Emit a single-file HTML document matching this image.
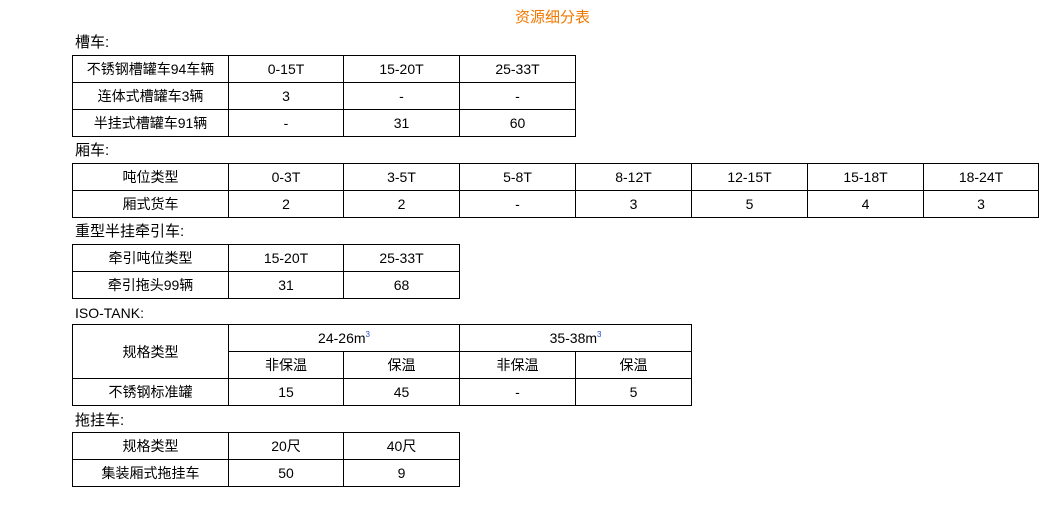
<!DOCTYPE html>
<html><head><meta charset="utf-8"><style>
body{margin:0;width:1040px;height:505px;background:#fff;position:relative;font-family:"Liberation Sans","Noto Sans CJK SC",sans-serif;font-size:14px;color:#000;overflow:hidden}
.l{position:absolute;left:75px;font-size:15px;line-height:18px}
table{position:absolute;left:72px;border-collapse:collapse;table-layout:fixed}
td{border:1px solid #000;height:26px;padding:0;text-align:center;line-height:26px;white-space:nowrap;overflow:hidden}
sup{font-size:8px;color:#2050c0;vertical-align:6px;line-height:0}
</style></head><body>
<div style="position:absolute;left:515px;top:6px;color:#f07800;font-size:15px">资源细分表</div>
<div class="l" style="top:34px">槽车:</div>
<table style="top:55px;width:503px"><colgroup><col style="width:156px"><col style="width:115px"><col style="width:116px"><col style="width:116px"></colgroup>
<tr><td>不锈钢槽罐车94车辆</td><td>0-15T</td><td>15-20T</td><td>25-33T</td></tr>
<tr><td>连体式槽罐车3辆</td><td>3</td><td>-</td><td>-</td></tr>
<tr><td>半挂式槽罐车91辆</td><td>-</td><td>31</td><td>60</td></tr></table>
<div class="l" style="top:142px">厢车:</div>
<table style="top:163px;width:966px"><colgroup><col style="width:156px"><col style="width:115px"><col style="width:116px"><col style="width:116px"><col style="width:116px"><col style="width:116px"><col style="width:116px"><col style="width:115px"></colgroup>
<tr><td>吨位类型</td><td>0-3T</td><td>3-5T</td><td>5-8T</td><td>8-12T</td><td>12-15T</td><td>15-18T</td><td>18-24T</td></tr>
<tr><td>厢式货车</td><td>2</td><td>2</td><td>-</td><td>3</td><td>5</td><td>4</td><td>3</td></tr></table>
<div class="l" style="top:223px">重型半挂牵引车:</div>
<table style="top:244px;width:387px"><colgroup><col style="width:156px"><col style="width:115px"><col style="width:116px"></colgroup>
<tr><td>牵引吨位类型</td><td>15-20T</td><td>25-33T</td></tr>
<tr><td>牵引拖头99辆</td><td>31</td><td>68</td></tr></table>
<div class="l" style="top:304px;font-size:14px">ISO-TANK:</div>
<table style="top:324px;width:619px"><colgroup><col style="width:156px"><col style="width:115px"><col style="width:116px"><col style="width:116px"><col style="width:116px"></colgroup>
<tr><td rowspan="2">规格类型</td><td colspan="2">24-26m<sup>3</sup></td><td colspan="2">35-38m<sup>3</sup></td></tr>
<tr><td>非保温</td><td>保温</td><td>非保温</td><td>保温</td></tr>
<tr><td>不锈钢标准罐</td><td>15</td><td>45</td><td>-</td><td>5</td></tr></table>
<div class="l" style="top:412px">拖挂车:</div>
<table style="top:432px;width:387px"><colgroup><col style="width:156px"><col style="width:115px"><col style="width:116px"></colgroup>
<tr><td>规格类型</td><td>20尺</td><td>40尺</td></tr>
<tr><td>集装厢式拖挂车</td><td>50</td><td>9</td></tr></table>
</body></html>
